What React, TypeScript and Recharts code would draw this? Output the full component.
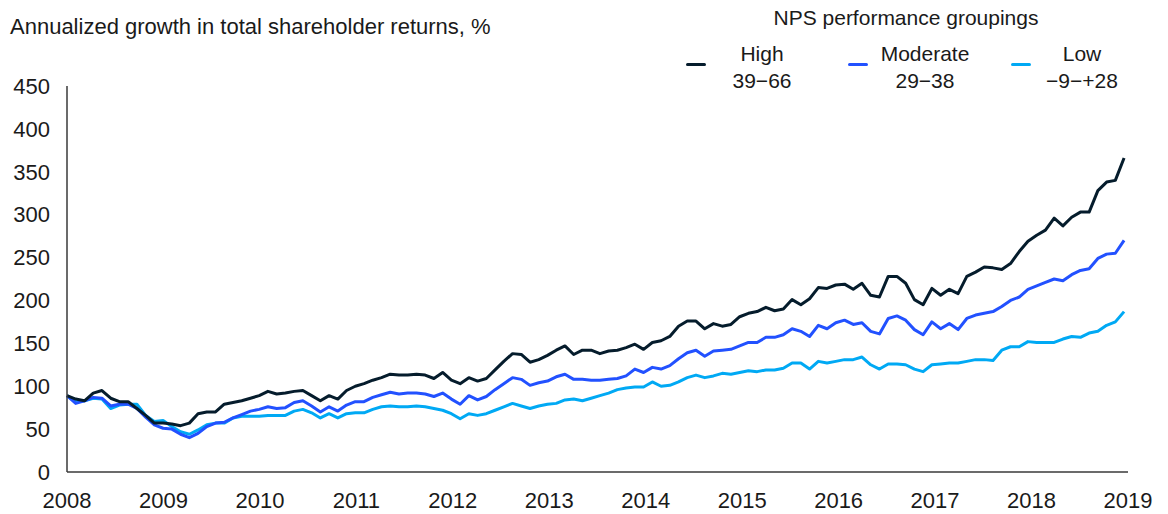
import { Line, LineChart, XAxis, YAxis } from 'recharts'

// monthly index, Jan 2008 onward
const years = ['2008', '2009', '2010', '2011', '2012', '2013', '2014', '2015', '2016', '2017', '2018', '2019']

const high = [
  89, 85, 83, 92, 95, 86, 82, 82, 74, 66, 57, 57, 56, 54, 57, 68, 70, 70, 79, 81, 83,
  86, 89, 94, 91, 92, 94, 95, 89, 83, 89, 85, 95, 100, 103, 107, 110, 114, 113, 113, 114,
  113, 109, 116, 107, 103, 110, 106, 109, 119, 129, 138, 137, 128, 131, 136, 142, 147, 137, 142, 142,
  138, 141, 142, 145, 149, 143, 151, 153, 158, 170, 176, 176, 167, 173, 170, 172, 181, 185, 187, 192,
  188, 190, 201, 195, 202, 215, 214, 218, 219, 213, 220, 206, 204, 228, 228, 220, 201, 195, 214,
  206, 213,
  208, 228, 233, 239, 238, 236, 243, 257, 269, 276, 282, 296, 287, 297, 303, 303, 328, 338, 340, 366,
]

const moderate = [
  89, 80, 83, 87, 86, 77, 79, 79, 74, 64, 55, 51, 50, 44, 40, 45, 53, 57, 58, 63, 67,
  71, 73, 76, 74, 75, 81, 83, 77, 70, 76, 71, 78, 82, 82, 87, 90, 93, 91, 92, 92,
  91, 88, 92, 85, 79, 89, 84, 88, 96, 103, 110, 108, 101, 104, 106, 111, 114, 108, 108, 107,
  107, 108, 109, 112, 120, 116, 122, 120, 124, 132, 139, 142, 135, 141, 142, 143, 147, 151, 151, 157,
  157, 160, 167, 164, 158, 171, 167, 174, 177, 172, 174, 164, 161, 179, 182, 177, 166, 160, 175,
  167, 173,
  166, 179, 183, 185, 187, 193, 200, 204, 213, 217, 221, 225, 223, 230, 235, 237, 249, 254, 255, 270,
]

const low = [
  89, 82, 83, 86, 85, 74, 78, 79, 79, 66, 59, 60, 53, 47, 44, 49, 55, 57, 57, 63, 65,
  65, 65, 66, 66, 66, 71, 73, 69, 63, 68, 63, 68, 69, 69, 73, 76, 77, 76, 76, 77,
  76, 74, 72, 68, 62, 68, 66, 68, 72, 76, 80, 77, 74, 77, 79, 80, 84, 85, 83, 86,
  89, 92, 96, 98, 99, 99, 105, 100, 101, 105, 110, 113, 110, 112, 115, 114, 116, 118, 117, 119,
  119, 121, 127, 127, 120, 129, 127, 129, 131, 131, 134, 125, 120, 126, 126, 125, 120, 117, 125,
  126, 127,
  127, 129, 131, 131, 130, 142, 146, 146, 152, 151, 151, 151, 155, 158, 157, 162, 164, 171, 175, 187,
]

const yTicks = [0, 50, 100, 150, 200, 250, 300, 350, 400, 450]

const seriesNames = ['High', 'Moderate', 'Low']
const seriesRanges = ['39−66', '29−38', '−9−+28']
const seriesColors = ['#051c2c', '#2251ff', '#00a9f4']

const W = 1168
const H = 514
const X_END = 121.45 // index position of the 2019 tick
const xTicks = years.map((_, k) => (k * X_END) / 11)

const data = high.map((v, i) => ({ i, high: v, moderate: moderate[i], low: low[i] }))

const font = '"Liberation Sans", Arial, sans-serif'
const ink = '#1a1a1a'

// swatch left / text centre for each legend item
const legendPos = [
  { swatch: 686, text: 762 },
  { swatch: 848, text: 925 },
  { swatch: 1011, text: 1082 },
]

export default function App() {
  return (
    <div style={{ position: 'absolute', left: 0, top: 0, width: W, height: H, background: '#fff', fontFamily: font, color: ink }}>
      <div style={{ position: 'absolute', left: 10, top: 14, fontSize: 22, lineHeight: '26px', whiteSpace: 'nowrap' }}>
        Annualized growth in total shareholder returns, %
      </div>
      <div style={{ position: 'absolute', left: 906, top: 5, transform: 'translateX(-50%)', fontSize: 21, lineHeight: '26px', whiteSpace: 'nowrap' }}>
        NPS performance groupings
      </div>
      {seriesNames.map((name, k) => (
        <div key={name}>
          <div
            style={{
              position: 'absolute',
              left: legendPos[k].swatch,
              top: 63,
              width: 20,
              height: 3,
              borderRadius: 2,
              background: seriesColors[k],
            }}
          />
          <div
            style={{
              position: 'absolute',
              left: legendPos[k].text,
              top: 40,
              transform: 'translateX(-50%)',
              textAlign: 'center',
              fontSize: 21,
              lineHeight: '27px',
              whiteSpace: 'nowrap',
            }}
          >
            <div>{name}</div>
            <div>{seriesRanges[k]}</div>
          </div>
        </div>
      ))}

      <LineChart width={W} height={H} data={data} margin={{ top: 86, right: 40, left: 7, bottom: 0 }}>
        <XAxis
          dataKey="i"
          type="number"
          domain={[0, X_END]}
          ticks={xTicks}
          tickFormatter={(v: number) => years[Math.round((v * 11) / X_END)]}
          axisLine={{ stroke: '#3a3a3a', strokeWidth: 1.5 }}
          tickLine={false}
          tickSize={0}
          tickMargin={20}
          height={42}
          interval={0}
          tick={{ fontSize: 22, fill: ink, fontFamily: font }}
        />
        <YAxis
          domain={[0, 450]}
          ticks={yTicks}
          axisLine={{ stroke: '#3a3a3a', strokeWidth: 1.5 }}
          tickLine={false}
          tickSize={0}
          tickMargin={17}
          width={60}
          interval={0}
          tick={{ fontSize: 22, fill: ink, fontFamily: font }}
        />
        <Line dataKey="low" stroke={seriesColors[2]} strokeWidth={3} dot={false} isAnimationActive={false} strokeLinejoin="round" />
        <Line dataKey="moderate" stroke={seriesColors[1]} strokeWidth={3} dot={false} isAnimationActive={false} strokeLinejoin="round" />
        <Line dataKey="high" stroke={seriesColors[0]} strokeWidth={3} dot={false} isAnimationActive={false} strokeLinejoin="round" />
      </LineChart>
    </div>
  )
}
